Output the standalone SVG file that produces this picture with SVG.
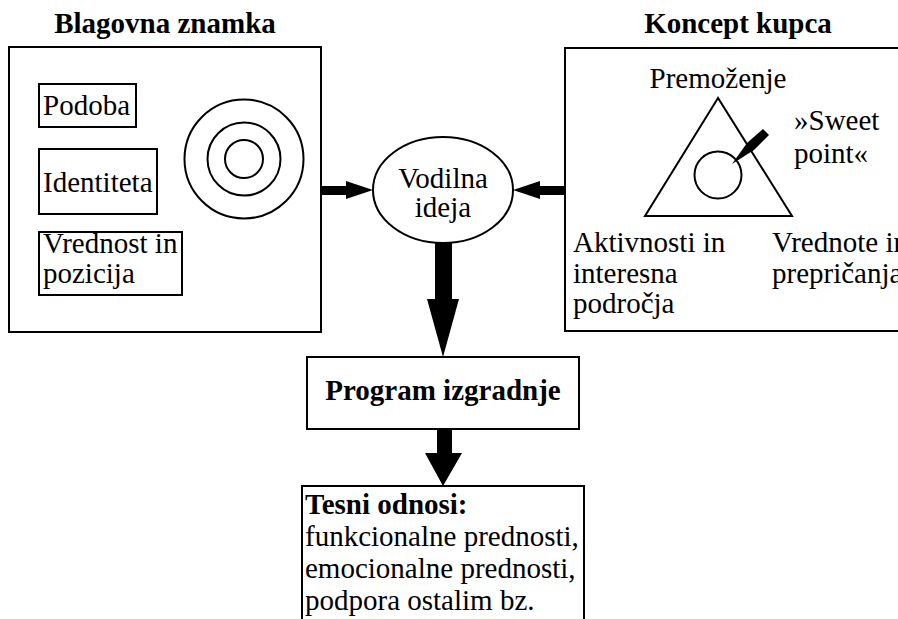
<svg xmlns="http://www.w3.org/2000/svg" width="898" height="619" viewBox="0 0 898 619">
<style>
text{font-family:"Liberation Serif","Times New Roman",serif;font-size:29px;fill:#000}
.b{font-weight:bold}
.m{text-anchor:middle}
.box{fill:#fff;stroke:#000;stroke-width:2}
.ln{fill:none;stroke:#000;stroke-width:2}
.ar{fill:#000;stroke:none}
</style>
<rect width="898" height="619" fill="#fff"/>
<g id="blagovna-znamka">
<text class="b m" x="165" y="33">Blagovna znamka</text>
<rect class="box" x="9" y="47" width="312" height="285"/>
<g id="podoba"><rect class="box" x="39" y="84" width="97" height="43"/><text x="43" y="115">Podoba</text></g>
<g id="identiteta"><rect class="box" x="39" y="149" width="118" height="65"/><text x="43" y="192">Identiteta</text></g>
<g id="vrednost"><rect class="box" x="39" y="232" width="143" height="63"/><text x="43" y="253">Vrednost in</text><text x="43" y="283">pozicija</text></g>
<g id="target"><circle class="ln" cx="244" cy="159" r="59.5"/><circle class="ln" cx="244" cy="159" r="36.5"/><circle class="ln" cx="244" cy="159" r="19"/></g>
</g>
<g id="koncept-kupca">
<text class="b m" x="738" y="33">Koncept kupca</text>
<rect class="box" x="565" y="48" width="345" height="283"/>
<text class="m" x="718" y="88">Premoženje</text>
<polygon class="ln" points="718,98 645,216 792,216"/>
<circle class="ln" cx="718" cy="175" r="23.5"/>
<polygon class="ar" points="763,129 769,135 754,150 732,164 747,143"/>
<text x="794" y="130">»Sweet</text>
<text x="794" y="163">point«</text>
<text x="573" y="252">Aktivnosti in</text>
<text x="573" y="283">interesna</text>
<text x="573" y="313">področja</text>
<text x="772" y="252">Vrednote in</text>
<text x="772" y="283">prepričanja</text>
</g>
<g id="vodilna-ideja">
<ellipse class="box" cx="443" cy="190" rx="70" ry="53"/>
<text class="m" x="443" y="188">Vodilna</text>
<text class="m" x="443" y="217">ideja</text>
</g>
<g id="program-izgradnje">
<rect class="box" x="307" y="357" width="272" height="72"/>
<text class="b m" x="443" y="400">Program izgradnje</text>
</g>
<g id="tesni-odnosi">
<path class="ln" d="M302,625 V486 H584 V625"/>
<text class="b" x="305" y="514">Tesni odnosi:</text>
<text x="305" y="546">funkcionalne prednosti,</text>
<text x="305" y="578">emocionalne prednosti,</text>
<text x="305" y="610">podpora ostalim bz.</text>
</g>
<g id="connectors">
<polygon class="ar" points="321,186 346,186 346,181 373,190 346,199 346,195 321,195"/>
<polygon class="ar" points="565,186 540,186 540,181 513,190 540,199 540,195 565,195"/>
<polygon class="ar" points="435,242 452,242 452,299 459,299 443,357 427,299 435,299"/>
<polygon class="ar" points="437,429 452,429 452,453 462,453 443,486 425,453 437,453"/>
</g>
</svg>
